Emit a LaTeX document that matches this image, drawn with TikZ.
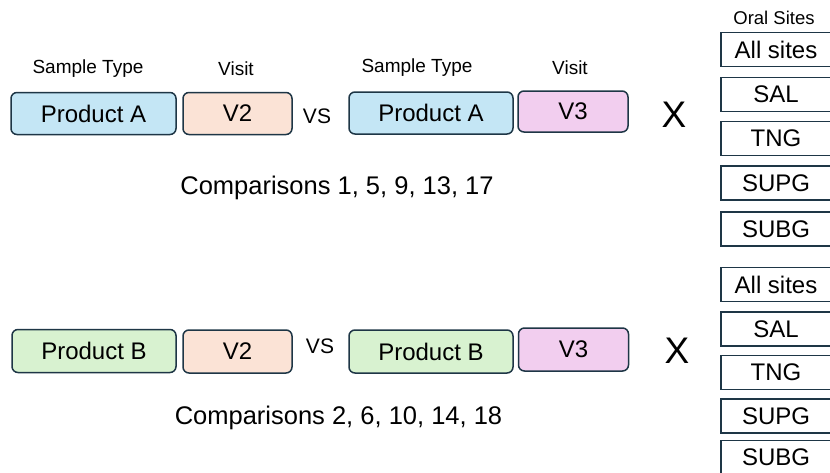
\documentclass[tikz,border=0pt]{standalone}
\usepackage{fontspec}
\setmainfont{Liberation Sans}
\definecolor{edgec}{HTML}{1E3646}
\definecolor{prodA}{HTML}{C4E6F5}
\definecolor{prodB}{HTML}{D8F2D0}
\definecolor{visTwo}{HTML}{FBE3D6}
\definecolor{visThree}{HTML}{F2CEEF}
\tikzset{
  pbox/.style={draw=edgec, line width=1.5pt, rounded corners=6pt, inner sep=0pt,
    minimum height=42pt, font=\fontsize{24}{24}\selectfont},
  prodbox/.style={pbox, minimum width=164pt},
  visbox/.style={pbox, minimum width=109pt},
  sitebox/.style={draw=edgec, line width=1.5pt, fill=white, inner sep=0pt,
    minimum width=110pt, minimum height=34pt, font=\fontsize{24}{24}\selectfont},
  hdr/.style={inner sep=0pt, font=\fontsize{19}{19}\selectfont},
  vslbl/.style={inner sep=0pt, font=\fontsize{21}{21}\selectfont},
  xlbl/.style={inner sep=0pt, font=\fontsize{37}{37}\selectfont},
  cmp/.style={inner sep=0pt, font=\fontsize{25.5}{25.5}\selectfont},
}
\begin{document}
\begin{tikzpicture}[x=1pt,y=-1pt]
\useasboundingbox[fill=white] (0,0) rectangle (830,472);
% headers
\node[hdr] (h1) at (88,69) {Sample Type};
\node[hdr] (h2) at (236,69) {Visit};
\node[hdr] (h3) at (417,68) {Sample Type};
\node[hdr] (h4) at (570,68) {Visit};
\node[inner sep=0pt, font=\fontsize{18.5}{18.5}\selectfont] (os) at (774,18) {Oral Sites};
% top row
\node[prodbox, fill=prodA, minimum width=165pt] (a1) at (93.5,113.5) {Product A};
\node[visbox, fill=visTwo] (a2) at (237.5,113.5) {V2};
\node[vslbl] (vs1) at (317,116) {VS};
\node[prodbox, fill=prodA] (a3) at (431,113) {Product A};
\node[visbox, fill=visThree, minimum width=110pt, minimum height=41pt] (a4) at (573,111.5) {V3};
\node[xlbl] (x1) at (674,115) {X};
\node[cmp] (c1) at (337,187.5) {Comparisons 1, 5, 9, 13, 17};
% bottom row
\node[prodbox, fill=prodB, minimum height=43pt] (b1) at (94,351) {Product B};
\node[visbox, fill=visTwo, minimum height=43pt] (b2) at (237.5,351.5) {V2};
\node[vslbl] (vs2) at (320,346) {VS};
\node[prodbox, fill=prodB, minimum height=43pt] (b3) at (431,351.5) {Product B};
\node[visbox, fill=visThree, minimum width=110pt, minimum height=43pt] (b4) at (573.5,349.5) {V3};
\node[xlbl] (x2) at (677,351) {X};
\node[cmp] (c2) at (338.5,417.5) {Comparisons 2, 6, 10, 14, 18};
% site boxes top
\node[sitebox] (s1) at (776,49.5) {All sites};
\node[sitebox] (s2) at (776,94.5) {SAL};
\node[sitebox] (s3) at (776,138.5) {TNG};
\node[sitebox] (s4) at (776,183) {SUPG};
\node[sitebox] (s5) at (776,229) {SUBG};
% site boxes bottom
\node[sitebox] (t1) at (776,284.5) {All sites};
\node[sitebox] (t2) at (776,329) {SAL};
\node[sitebox] (t3) at (776,372.5) {TNG};
\node[sitebox] (t4) at (776,416) {SUPG};
\node[sitebox] (t5) at (776,457.5) {SUBG};
\end{tikzpicture}
\end{document}
